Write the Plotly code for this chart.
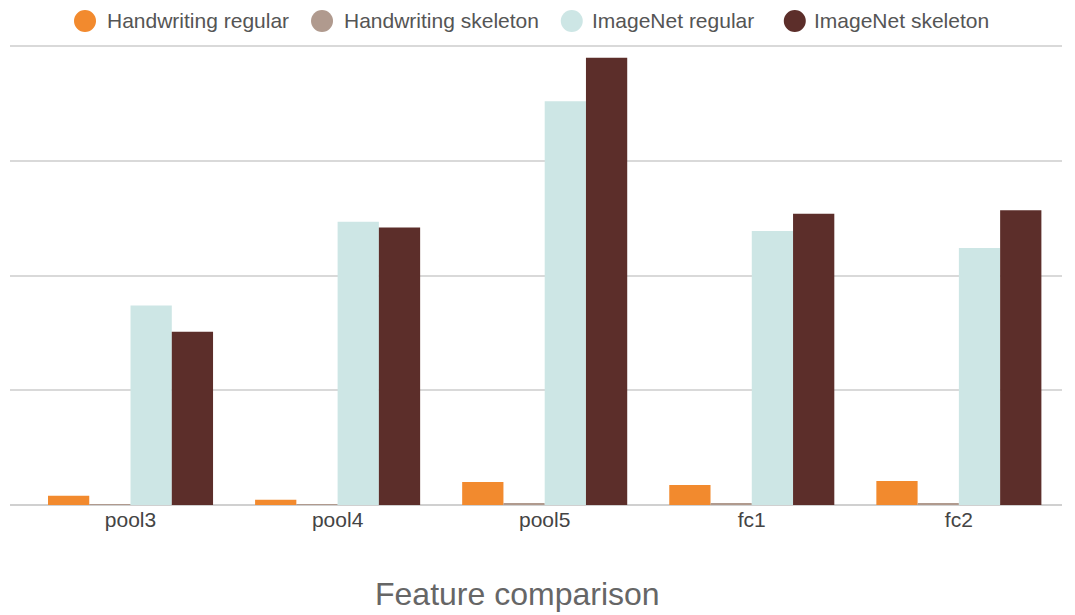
import plotly.graph_objects as go

layers = ["pool3", "pool4", "pool5", "fc1", "fc2"]
series_names = ["Handwriting regular", "Handwriting skeleton", "ImageNet regular", "ImageNet skeleton"]
hand_regular = [0.08, 0.045, 0.20, 0.175, 0.21]
hand_skeleton = [0.008, 0.005, 0.018, 0.015, 0.018]
imagenet_regular = [1.74, 2.47, 3.52, 2.39, 2.24]
imagenet_skeleton = [1.51, 2.42, 3.90, 2.54, 2.57]
colors = ["#F28A2E", "#B09A8E", "#CDE6E5", "#5C2E2A"]

values = [hand_regular, hand_skeleton, imagenet_regular, imagenet_skeleton]

fig = go.Figure()
for name, vals, col in zip(series_names, values, colors):
    fig.add_trace(go.Bar(x=layers, y=vals, name=name, marker_color=col,
                         marker_line_width=0, showlegend=False))

# hand-drawn legend with big circle swatches (plotly caps legend marker size)
legend_circle_x = [0.0713, 0.2966, 0.534, 0.746]
legend_text_x = [0.0903, 0.3156, 0.551, 0.7624]
legend_y = 1.05
for name, col, cx, tx in zip(series_names, colors, legend_circle_x, legend_text_x):
    fig.add_shape(type="circle", xref="paper", yref="paper",
                  xsizemode="pixel", ysizemode="pixel", xanchor=cx, yanchor=legend_y,
                  x0=-11, x1=11, y0=-11, y1=11, fillcolor=col, line_width=0)
    fig.add_annotation(text=name, xref="paper", yref="paper", x=tx, y=legend_y,
                       xanchor="left", yanchor="middle", showarrow=False,
                       font=dict(size=21, color="#555"))

fig.add_annotation(text="Feature comparison", xref="paper", yref="paper",
                   x=0.482, y=-0.193, xanchor="center", yanchor="middle", showarrow=False,
                   font=dict(size=32, color="#666"))

# page body has an 8px margin, so the figure is 8px smaller than the window
fig.update_layout(
    width=1067, height=607,
    margin=dict(l=2, r=13, t=36, b=110, autoexpand=False),
    plot_bgcolor="white", paper_bgcolor="white",
    barmode="group", bargap=0.203, bargroupgap=0,
    font=dict(family="Liberation Sans, Arial, sans-serif", color="#555"),
    showlegend=False,
)
fig.update_xaxes(
    range=[-0.582, 4.498],
    showgrid=False, showline=False, ticks="",
    tickfont=dict(size=21, color="#444"),
)
fig.update_yaxes(
    range=[0, 4.02], dtick=1, showticklabels=False,
    gridcolor="#d9d9d9", gridwidth=1.5,
    zeroline=True, zerolinecolor="#d0d0d0", zerolinewidth=2,
)

fig.write_html("out.html")
